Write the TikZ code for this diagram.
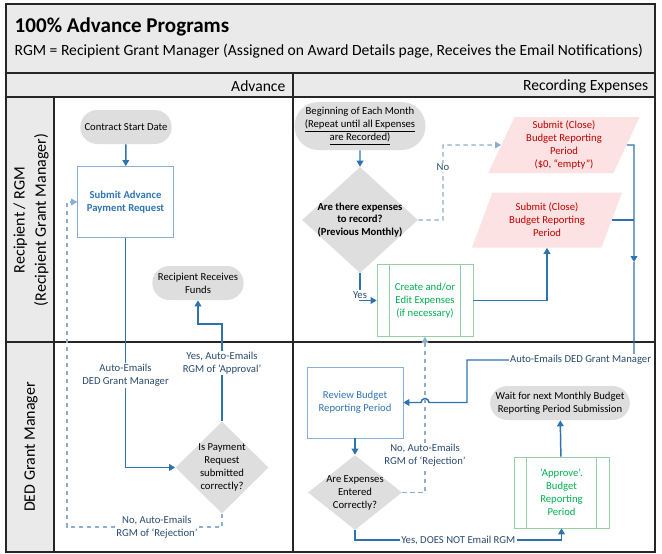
\documentclass[tikz,border=0pt]{standalone}
\usepackage{fontspec}
\setmainfont{Carlito}
\usepackage{tikz}
\usetikzlibrary{arrows.meta}
\usetikzlibrary{shapes}
\usetikzlibrary{shapes.geometric}
\usetikzlibrary{shapes.misc}
\usetikzlibrary{positioning}
\usetikzlibrary{calc}
\definecolor{hdrgray}{HTML}{EAEAEA}
\definecolor{pillgray}{HTML}{DEDEDE}
\definecolor{flowblue}{HTML}{2F72B0}
\definecolor{dashblue}{HTML}{8EAED0}
\definecolor{taskblue}{HTML}{8AAFD6}
\definecolor{textblue}{HTML}{2E75B6}
\definecolor{lblblue}{HTML}{2A4B70}
\definecolor{procgreen}{HTML}{96D0A2}
\definecolor{textgreen}{HTML}{00B050}
\definecolor{subpink}{HTML}{FCE2E2}
\definecolor{subred}{HTML}{C00000}
\tikzset{
  % Common styles for the swimlane frame
  frame/.style={draw=black!85, line width=1.1pt},
  lanetext/.style={font=\fontsize{11.7}{14}\selectfont}
}

\begin{document}
\begin{tikzpicture}[x=0.75pt, y=0.75pt, font=\fontsize{8}{9.75}\selectfont]
    % Define styles
    \tikzstyle{pill} = [rounded rectangle, fill=pillgray, minimum width=70.5pt, minimum height=25.5pt, align=center, inner sep=1pt]
    \tikzstyle{task} = [rectangle, draw=taskblue, fill=white, text=textblue, align=center, minimum width=72pt, minimum height=53.5pt]
    \tikzstyle{proc} = [rectangle, draw=procgreen, fill=white, text=textgreen, align=center, minimum width=72pt, minimum height=54pt,
      path picture={\draw[procgreen] ([xshift=9.5pt]path picture bounding box.north west) -- ([xshift=9.5pt]path picture bounding box.south west)
        ([xshift=-9.5pt]path picture bounding box.north east) -- ([xshift=-9.5pt]path picture bounding box.south east);}]
    \tikzstyle{decision} = [diamond, fill=pillgray, inner sep=0pt]
    \tikzstyle{submit} = [trapezium, trapezium left angle=68, trapezium right angle=112, trapezium stretches=true, fill=subpink, text=subred, align=center, minimum width=114pt, minimum height=42pt, inner sep=1pt]
    \tikzstyle{line} = [draw=flowblue, line width=1.1pt]
    \tikzstyle{flow} = [line, -{Triangle[length=4.5pt,width=5pt]}]
    \tikzstyle{dflow} = [flow, draw=dashblue, line width=0.8pt, dash pattern=on 3.5pt off 2.5pt]
    \tikzstyle{lbl} = [fill=white, text=lblblue, align=center, inner sep=1pt]

    \useasboundingbox (0,0) rectangle (662,-554);

    % Swimlane frame
    \fill[hdrgray] (6,-4) rectangle (655,-97);
    \fill[hdrgray] (6,-97) rectangle (54,-552);
    \draw[frame] (6,-4) rectangle (655,-552);
    \draw[frame] (6,-73) -- (655,-73);
    \draw[frame] (6,-97) -- (655,-97);
    \draw[frame] (54,-97) -- (54,-552);
    \draw[frame] (293,-73) -- (293,-552);
    \draw[frame] (6,-342) -- (655,-342);

    \node[anchor=west, font=\fontsize{15.8}{18}\selectfont\bfseries] (title) at (10,-27) {100\% Advance Programs};
    \node[anchor=west, lanetext] (rgmnote) at (10,-51) {RGM = Recipient Grant Manager (Assigned on Award Details page, Receives the Email Notifications)};
    \node[anchor=east, lanetext] (advhdr) at (290,-86) {Advance};
    \node[anchor=east, lanetext] (rechdr) at (653,-86) {Recording Expenses};
    \node[rotate=90, align=center, font=\fontsize{12}{16}\selectfont] (lanergm) at (31,-220) {Recipient / RGM\\(Recipient Grant Manager)};
    \node[rotate=90, font=\fontsize{12}{16}\selectfont] (laneded) at (31,-447) {DED Grant Manager};

    % Place nodes
    \node [pill] (start) at (126,-127) {Contract Start Date};
    \node [task, font=\fontsize{8}{9.75}\selectfont\bfseries] (advreq) at (125.5,-202) {Submit Advance\\Payment Request};
    \node [pill] (funds) at (198,-283) {Recipient Receives\\Funds};
    \node [decision, minimum width=69.75pt, minimum height=69pt,
      label={[align=center]center:{Is Payment\\Request\\submitted\\correctly?}}] (payok) at (222,-467.5) {};

    \node [pill, minimum width=86.25pt, minimum height=36pt] (month) at (360,-126)
      {Beginning of Each Month\\\underline{(Repeat until all Expenses}\\\underline{are Recorded)}};
    \node [decision, minimum width=87pt, minimum height=79.5pt,
      label={[align=center, font=\fontsize{8}{9.4}\selectfont\bfseries]center:{Are there expenses\\to record?\\(Previous Monthly)}}] (expq) at (360,-220) {};
    \node [submit] (close1) at (564,-145) {Submit (Close)\\Budget Reporting\\Period\\(\$0, “empty”)};
    \node [submit, minimum width=113.25pt, minimum height=41.25pt] (close2) at (547,-220) {Submit (Close)\\Budget Reporting\\Period};
    \node [proc] (create) at (425,-300.5) {Create and/or\\Edit Expenses\\(if necessary)};
    \node [task] (review) at (355,-402.5) {Review Budget\\Reporting Period};
    \node [decision, minimum width=70.5pt, minimum height=56.25pt,
      label={[align=center]center:{Are Expenses\\Entered\\Correctly?}}] (expok) at (355,-492.5) {};
    \node [proc, minimum width=71.25pt, minimum height=53.25pt] (approve) at (561.5,-492.5) {‘Approve’.\\Budget\\Reporting\\Period};
    \node [pill, minimum width=100.5pt] (wait) at (560,-403) {Wait for next Monthly Budget\\Reporting Period Submission};

    \coordinate (aprv) at (222,-324);
    \coordinate (rej) at (67,-527);
    \coordinate (nobend) at (443,-145);
    \coordinate (jtop) at (634,-145);
    \coordinate (jmid) at (634,-262);
    \coordinate (jbot) at (634,-360);
    \coordinate (emails) at (467,-360);
    \coordinate (hop) at (429,-402.5);
    \coordinate (yesbend) at (355,-540);

    % Draw edges
    \path [flow] (start) -- (advreq);
    \path [flow] (advreq.south) |- node[lbl, pos=0.3] {Auto-Emails\\DED Grant Manager} (payok.west);
    \path [flow] (payok.north) -- node[lbl, pos=0.6] {Yes, Auto-Emails\\RGM of ‘Approval’} (aprv) -| (funds.south);
    \path [dflow] (payok.south) |- node[lbl, pos=0.71] {No, Auto-Emails\\RGM of ‘Rejection’} (rej) |- (advreq.west);

    \path [flow] (month) -- (expq);
    \path [dflow] (expq.east) -| node[lbl, pos=0.85] {No} (nobend) -- (close1.west);
    \path [flow] (expq.south) |- node[lbl, pos=0.4] {Yes} (create.west);
    \path [flow] (create.east) -| (close2.south);
    \path [flow] (close1.east) -- (jtop) -- (jmid);
    \path [line] (close2.east) -- (close2.east -| jtop);
    \path [flow] (jmid) -- (jbot) -- node[lbl, pos=0.32] {Auto-Emails DED Grant Manager} (emails)
      |- (hop) arc[start angle=0, end angle=180, radius=3pt] -- (review.east);
    \path [flow] (review) -- (expok);
    \path [dflow] (expok.east) -| node[lbl, pos=0.62] {No, Auto-Emails\\RGM of ‘Rejection’} (create.south);
    \path [flow] (expok.south) -- (yesbend) -| node[lbl, pos=0.25] {Yes, DOES NOT Email RGM} (approve.south);
    \path [flow] (approve) -- (wait);

\end{tikzpicture}
\end{document}
